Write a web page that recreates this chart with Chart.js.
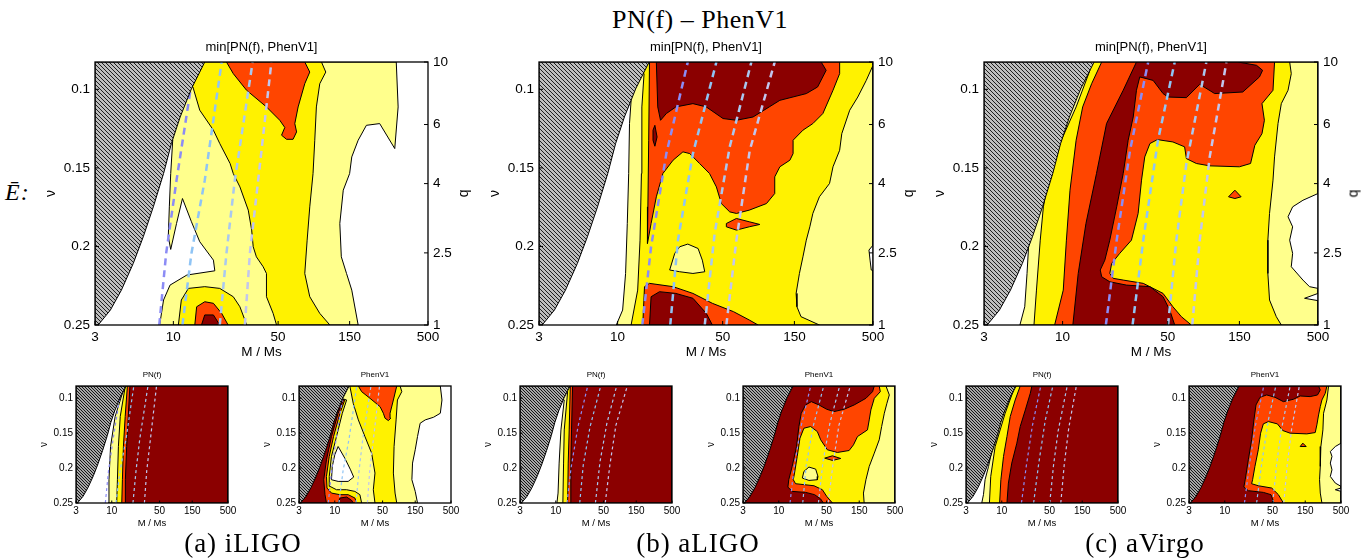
<!DOCTYPE html>
<html>
<head>
<meta charset="utf-8">
<script src="https://cdn.jsdelivr.net/npm/chart.js@4.4.1/dist/chart.umd.min.js"></script>
<style>
  body { margin: 0; width: 1370px; height: 560px; background: #fff; position: relative; overflow: hidden; font-family: "Liberation Sans", Arial, sans-serif; }
  canvas { position: absolute; }
  .lbl { position: absolute; white-space: nowrap; color: #000; text-align: center; }
  .serif { font-family: "Liberation Serif", "DejaVu Serif", serif; letter-spacing: 1px; }
</style>
</head>
<body>
<div class="lbl serif" style="left:500px;width:400px;top:5px;font-size:26px;line-height:30px;letter-spacing:0.5px;">PN(f) – PhenV1</div>
<div class="lbl serif" style="left:5px;top:178px;font-size:24px;line-height:28px;font-style:italic;">Ē:</div>
<script>
// axes: total mass M (log) and symmetric mass ratio nu, q on the right
const nuTop = 0.0826; // q = 10
const massTicks = [3, 10, 50, 150, 500];
const massTickLabels = ['3', '10', '50', '150', '500'];
const nuTicks = [0.1, 0.15, 0.2, 0.25];
const nuTickLabels = ['0.1', '0.15', '0.2', '0.25'];
const qTickNu = [0.0826, 0.1224, 0.16, 0.2041, 0.25];
const qTickLabels = ['10', '6', '4', '2.5', '1'];

// excluded corner (hatched), points [M, nu]
const hatchEdge = [[16.2,0.0826],[13.2,0.0996],[11.1,0.1176],[9.7,0.1345],[8.6,0.1536],[7.35,0.1748],[6.3,0.1938],[5.4,0.2108],[4.5,0.2278],[3.8,0.2405],[3.15,0.25]];

// dashed tracks per detector
const iligoTracks = [
  [[8.05,0.25],[8.95,0.2044],[10.5,0.1578],[13.0,0.1006]],
  [[11.5,0.25],[13.2,0.2044],[16.2,0.1578],[21.0,0.0826]],
  [[20.4,0.25],[22.6,0.2044],[25.7,0.1578],[33.8,0.0826]],
  [[30.0,0.25],[32.4,0.2044],[36.8,0.1578],[45.1,0.0826]]
];
const aligoTracks = [
  [[14.6,0.25],[16.7,0.2002],[21.1,0.1409],[29.3,0.0826]],
  [[22.4,0.25],[25.2,0.196],[31.7,0.1409],[45.4,0.0826]],
  [[38.0,0.25],[44.2,0.1917],[55.7,0.1366],[77.6,0.0826]],
  [[52.9,0.25],[61.7,0.196],[75.7,0.1388],[111,0.0826]]
];
const avirgoTracks = [
  [[19.4,0.25],[22.9,0.196],[28.1,0.1388],[37.1,0.0826]],
  [[29.2,0.25],[34.4,0.196],[43.1,0.1324],[55.7,0.0826]],
  [[50.3,0.25],[57.1,0.196],[66.6,0.1472],[90.4,0.0826]],
  [[72.9,0.25],[81.7,0.196],[95.2,0.143],[123,0.0826]]
];

// iLIGO, min[PN(f), PhenV1]
const aMinPale = [[3,0.0826],[307,0.0826],[316,0.1112],[300,0.1377],[238,0.1218],[194,0.1229],[171,0.1324],[155,0.143],[150,0.1536],[136,0.1642],[129,0.1854],[132,0.2066],[143,0.2172],[155,0.2278],[171,0.25],[8.1,0.25],[8.6,0.2341],[9.5,0.2246],[12.3,0.2182],[18.9,0.2155],[18.5,0.2087],[15.0,0.197],[13.2,0.1843],[11.5,0.1695],[10.5,0.1854],[9.6,0.2019],[9.25,0.1938],[9.4,0.1748],[9.6,0.1536],[9.9,0.1324]];
const aMinYellow = [[3,0.0826],[97.3,0.0826],[104,0.089],[94.8,0.0964],[90,0.1112],[87.8,0.1324],[85.5,0.1536],[81.3,0.1748],[78.1,0.196],[75.3,0.2172],[81.3,0.232],[94.8,0.2426],[110.7,0.25],[48.8,0.25],[46.3,0.2426],[41.8,0.232],[41.8,0.2172],[39.7,0.2129],[35.8,0.2066],[34.1,0.2002],[33.3,0.1896],[31.6,0.1769],[27.8,0.1621],[25.1,0.1536],[23.9,0.1472],[20.4,0.1345],[18.5,0.126],[15.0,0.1133],[13.5,0.0985]];
const aMinYellowLow = [[10.8,0.25],[11.3,0.2341],[12.6,0.2267],[16.2,0.2256],[20.4,0.2267],[25.1,0.232],[27.8,0.2384],[30.0,0.2468],[30.8,0.25]];
const aMinRed = [[22.6,0.0826],[25.1,0.09],[30.8,0.1006],[41.8,0.1112],[51.3,0.1197],[55.4,0.1243],[52.7,0.1292],[56.9,0.1318],[62.9,0.1318],[66.4,0.1271],[64.6,0.1218],[68,0.1112],[75.3,0.0964],[81.3,0.089],[75.3,0.0826]];
const aMinRedLow = [[13.9,0.25],[14.3,0.2384],[16.2,0.2352],[18.5,0.2362],[21,0.2426],[23.2,0.25]];
const aMinDark = [[15.4,0.25],[16.2,0.2436],[18.5,0.2436],[20.4,0.25]];

// aLIGO, min[PN(f), PhenV1]
const bMinPale = [[3,0.0826],[500,0.0826],[500,0.25],[9.8,0.25],[10.8,0.2405],[11.3,0.2172],[11.6,0.1854],[11.85,0.1536],[12.0,0.1218],[12.3,0.107]];
const bMinWhite = [[500,0.1992],[470,0.2023],[478,0.2087],[487,0.215],[500,0.2155]];
const bMinYellow = [[3,0.0826],[500,0.0826],[500,0.0847],[451,0.0943],[396,0.1049],[350,0.1133],[310,0.1282],[300,0.1388],[271,0.1493],[257,0.1599],[220,0.1684],[199,0.179],[190,0.1875],[180,0.196],[171,0.2066],[162,0.2172],[154,0.2299],[156,0.2384],[166,0.2447],[220,0.25],[12.3,0.25],[13.6,0.2278],[14.1,0.196],[14.4,0.1536],[14.5,0.1112],[15.0,0.09]];
const bMinPaleIsle = [[22.2,0.215],[24.0,0.2044],[25.9,0.2002],[29.3,0.1985],[34.3,0.2013],[36.6,0.2087],[38.0,0.2161],[31.7,0.2172],[25.9,0.2161]];
const bMinRed = [[16.3,0.0826],[16.1,0.1324],[15.9,0.1748],[15.8,0.1981],[16.7,0.1854],[18.1,0.1684],[20.0,0.1536],[23.4,0.1451],[27.2,0.1398],[30.2,0.1409],[35.1,0.1472],[40.9,0.1536],[45.4,0.1621],[49.0,0.1727],[55.7,0.178],[61.7,0.179],[75.1,0.1769],[97.8,0.1727],[111,0.1663],[111,0.1557],[120,0.1493],[140,0.1451],[147,0.1409],[147,0.1324],[171,0.126],[199,0.1218],[232,0.1154],[271,0.1006],[300,0.09],[300,0.0826]];
const bMinRedIsle = [[52.9,0.1854],[61.7,0.1822],[75.1,0.1843],[88.3,0.186],[75.1,0.1875],[61.7,0.1896],[52.9,0.1875]];
const bMinRedLow = [[14.7,0.25],[15.1,0.2256],[16.3,0.2235],[23.4,0.2256],[31.7,0.2299],[42.7,0.2362],[59.0,0.2415],[75.1,0.2468],[86.0,0.25]];
const bMinDark = [[18.1,0.0826],[18.5,0.1112],[19.3,0.1197],[21.1,0.1154],[24.4,0.1112],[31.7,0.1091],[38.9,0.1112],[50.3,0.1186],[61.7,0.1197],[79.6,0.1176],[102,0.1112],[120,0.107],[180,0.1027],[214,0.0985],[244,0.0879],[226,0.0826]];
const bMinDarkSliver = [[17.2,0.126],[17.7,0.1229],[18.3,0.1303],[17.7,0.1362],[17.2,0.1324]];
const bMinDarkLow = [[16.3,0.25],[16.7,0.232],[19.0,0.2288],[24.4,0.2299],[31.7,0.233],[38.9,0.2426],[42.7,0.25]];

// aVirgo, min[PN(f), PhenV1]
const cMinPale = [[3,0.0826],[500,0.0826],[500,0.25],[5.2,0.25],[5.6,0.2384],[5.8,0.2172],[5.97,0.196],[6.4,0.179],[7.8,0.1578]];
const cMinWhite = [[500,0.1663],[397,0.1706],[339,0.1748],[316,0.1811],[339,0.1875],[324,0.196],[339,0.2044],[332,0.2129],[397,0.2214],[439,0.2256],[500,0.2267]];
const cMinWhiteLow = [[500,0.2299],[407,0.233],[500,0.2345]];
const cMinYellow = [[3,0.0826],[324,0.0826],[332,0.09],[316,0.1006],[285,0.1091],[271,0.1218],[257,0.143],[251,0.1578],[238,0.179],[232,0.196],[232,0.2172],[238,0.2341],[264,0.2447],[285,0.25],[6.45,0.25],[6.7,0.2278],[7.1,0.196],[7.45,0.1748],[8.2,0.1536],[9.8,0.1324],[12.3,0.1112],[15.2,0.0879]];
const cMinRed = [[18.2,0.0826],[257,0.0826],[251,0.1006],[212,0.1091],[220,0.1197],[212,0.1282],[190,0.1356],[178,0.1472],[150,0.1493],[95.1,0.1487],[77.6,0.1472],[66.6,0.1441],[64.8,0.1366],[54.2,0.1335],[42.7,0.132],[38.1,0.1345],[35.2,0.143],[33.5,0.1578],[31.8,0.179],[28.7,0.196],[24.0,0.2044],[21.2,0.2108],[20.6,0.2172],[21.7,0.2203],[25.3,0.2214],[34.4,0.2235],[46.6,0.2299],[54.2,0.2384],[61.7,0.2447],[71.8,0.25],[8.85,0.25],[10.1,0.2278],[10.6,0.196],[11.2,0.1642],[12.3,0.1324],[13.6,0.1112],[15.6,0.0964]];
const cMinRedIsle = [[127,0.1684],[140,0.1642],[154,0.1684],[140,0.1695]];
const cMinDark = [[31.0,0.0826],[146.6,0.0826],[195,0.0847],[214,0.0879],[204,0.0921],[158,0.1017],[102.7,0.1027],[81.7,0.0968],[66.6,0.1053],[50.2,0.1049],[46.6,0.1027],[40.0,0.0943],[32.6,0.0921],[31.0,0.1006],[29.5,0.1176],[27.3,0.1324],[25.3,0.1536],[22.9,0.1748],[20.6,0.196],[19.1,0.2087],[17.8,0.215],[18.2,0.2193],[20.6,0.2225],[26.6,0.2246],[38.1,0.2256],[46.6,0.232],[51.6,0.2405],[55.7,0.25],[11.7,0.25],[12.7,0.2172],[14.3,0.1854],[16.8,0.1536],[19.6,0.1218],[25.3,0.1006]];

// iLIGO, PN(f) and PhenV1
const aPnPale = [[3,0.0826],[500,0.0826],[500,0.25],[8.9,0.25],[9.1,0.2167],[9.6,0.1691],[11.2,0.1263],[14.8,0.0883]];
const aPnYellow = [[3,0.0826],[500,0.0826],[500,0.25],[11.8,0.25],[12.1,0.2167],[12.5,0.1691],[13.3,0.1263],[15.7,0.0836]];
const aPnRed = [[16.9,0.0826],[500,0.0826],[500,0.25],[14.0,0.25],[14.3,0.2167],[14.8,0.1691],[15.7,0.1263]];
const aPnDark = [[18.4,0.0826],[500,0.0826],[500,0.25],[15.7,0.25],[15.8,0.2167],[16.5,0.1691],[17.4,0.1263]];
const aPhPale = [[3,0.0826],[349,0.0826],[369,0.1026],[349,0.1216],[278,0.1273],[210,0.1311],[177,0.1359],[162,0.1549],[150,0.1739],[137,0.1929],[134,0.2167],[150,0.2334],[162,0.25],[3,0.25]];
const aPhWhite = [[11.2,0.1692],[14.0,0.1858],[17.0,0.2025],[18.9,0.2129],[15.7,0.2191],[11.2,0.2191],[8.95,0.2167],[9.2,0.1977],[10.0,0.181]];
const aPhYellow = [[16.6,0.0826],[90.2,0.0826],[95.4,0.0907],[82.4,0.1026],[78.8,0.1311],[73.6,0.1692],[71.9,0.2072],[76.1,0.2358],[80.5,0.25],[38.7,0.25],[36.6,0.231],[38.7,0.2072],[34.6,0.1787],[27.6,0.1549],[22.1,0.1311],[18.6,0.1073]];
const aPhYellowLeft = [[3,0.25],[24.7,0.25],[23.3,0.2381],[19.7,0.2334],[14.9,0.231],[10.6,0.231],[8.5,0.2262],[8.3,0.212],[8.95,0.1834],[10.6,0.1549],[12.9,0.1216],[14.9,0.1026],[3,0.0826]];
const aPhRed = [[3,0.25],[20.8,0.25],[19.7,0.2429],[15.7,0.2381],[11.9,0.2381],[8.95,0.2358],[7.7,0.2286],[7.56,0.212],[8.3,0.1834],[9.6,0.1549],[11.9,0.1216],[14.0,0.1026],[3,0.0826]];
const aPhRedTop = [[22.1,0.0826],[24.7,0.0907],[32.7,0.1002],[45.9,0.1121],[51.3,0.1216],[54.3,0.1287],[60.8,0.1321],[65.8,0.1287],[64.3,0.1216],[71.9,0.1026],[80.5,0.0826]];
const aPhDark = [[3,0.25],[7.56,0.25],[7.2,0.2381],[6.9,0.2167],[7.56,0.1882],[8.95,0.1549],[11.2,0.1216],[13.3,0.1026],[3,0.0826]];
const aPhDarkLow = [[11.2,0.25],[11.9,0.2429],[14.9,0.2414],[17.6,0.2462],[18.6,0.25]];

// aLIGO, PN(f) and PhenV1
const bPnPale = [[3,0.0826],[500,0.0826],[500,0.25],[10.4,0.25],[10.8,0.2358],[11.2,0.1929],[11.9,0.1454],[13.3,0.1026]];
const bPnYellow = [[3,0.0826],[500,0.0826],[500,0.25],[12.7,0.25],[13.0,0.1929],[13.3,0.1454],[14.9,0.0907]];
const bPnRed = [[16.3,0.0826],[500,0.0826],[500,0.25],[14.9,0.25],[15.2,0.1929],[15.7,0.1454]];
const bPnDark = [[17.6,0.0826],[500,0.0826],[500,0.25],[16.3,0.25],[16.6,0.1929],[17.0,0.1454]];
const bPhPale = [[3,0.0826],[500,0.0826],[500,0.25],[3,0.25]];
const bPhYellow = [[3,0.0826],[369,0.0826],[413,0.0954],[381,0.1073],[349,0.1216],[319,0.1406],[294,0.1596],[249,0.1787],[210,0.1977],[188,0.2167],[173,0.2358],[177,0.25],[3,0.25]];
const bPhRed = [[3,0.0826],[294,0.0826],[305,0.0907],[249,0.1002],[222,0.1168],[210,0.1311],[198,0.1454],[141.5,0.1549],[123.6,0.1668],[106.8,0.1749],[71.9,0.1777],[51.3,0.1739],[41.0,0.1596],[36.6,0.1478],[29.2,0.1406],[23.3,0.143],[20.4,0.1573],[18.6,0.1834],[17.0,0.2072],[16.3,0.2167],[17.6,0.2224],[32.7,0.2253],[43.4,0.231],[50.2,0.2405],[60.8,0.25],[3,0.25]];
const bPhRedIsle = [[46.9,0.1858],[60.8,0.1825],[80.5,0.1863],[60.8,0.1891]];
const bPhDark = [[3,0.0826],[249,0.0826],[235,0.0907],[188,0.1002],[126.5,0.1097],[90.2,0.1159],[64.3,0.1192],[50.2,0.1159],[38.7,0.1097],[29.9,0.105],[24.7,0.1097],[21.3,0.1216],[19.7,0.1406],[18.2,0.1692],[15.7,0.1977],[14.0,0.2167],[13.6,0.2272],[15.7,0.2334],[24.7,0.2348],[33.4,0.2381],[41.0,0.2443],[44.8,0.25],[3,0.25]];
const bPhPaleIsle = [[22.1,0.2143],[23.3,0.2048],[27.6,0.1986],[34.6,0.2015],[37.4,0.212],[36.6,0.2167],[27.6,0.2177]];

// aVirgo, PN(f) and PhenV1
const cPnPale = [[3,0.0826],[500,0.0826],[500,0.25],[5.1,0.25],[5.4,0.2381],[5.7,0.2167],[6.4,0.1977],[7.6,0.1644]];
const cPnYellow = [[3,0.0826],[500,0.0826],[500,0.25],[6.6,0.25],[6.9,0.212],[8.0,0.1692],[11.2,0.1216],[14.9,0.0883]];
const cPnRed = [[18.6,0.0826],[500,0.0826],[500,0.25],[9.3,0.25],[9.7,0.2167],[10.6,0.1834],[11.9,0.1549],[13.3,0.1263],[15.7,0.1026]];
const cPnDark = [[27.6,0.0826],[500,0.0826],[500,0.25],[11.9,0.25],[12.5,0.2215],[14.0,0.1929],[16.6,0.1644],[18.6,0.1406],[22.1,0.1168],[26.1,0.0931]];
const cPhPale = [[3,0.0826],[500,0.0826],[500,0.25],[3,0.25]];
const cPhWhite = [[500,0.1644],[413,0.1692],[349,0.1763],[369,0.1834],[349,0.1929],[369,0.2025],[349,0.212],[413,0.2215],[500,0.2262]];
const cPhWhiteLow = [[500,0.2286],[413,0.231],[500,0.2334]];
const cPhYellow = [[3,0.0826],[329,0.0826],[311,0.1026],[278,0.1216],[272,0.1454],[254,0.1692],[249,0.1977],[243,0.2167],[249,0.2358],[263,0.25],[3,0.25]];
const cPhRed = [[3,0.0826],[311,0.0826],[294,0.0931],[263,0.1026],[249,0.1121],[235,0.124],[222,0.1382],[210,0.1492],[158,0.1511],[90.2,0.1501],[70.4,0.1463],[58.8,0.1368],[43.4,0.1335],[36.6,0.1368],[33.4,0.1501],[30.9,0.1739],[27.6,0.1977],[25.5,0.2167],[24.7,0.2224],[30.9,0.2253],[48.5,0.2286],[60.8,0.2381],[71.9,0.25],[3,0.25]];
const cPhRedIsle = [[126.5,0.1692],[138.4,0.1644],[154.9,0.1692]];
const cPhDark = [[3,0.0826],[235,0.0826],[249,0.0883],[227,0.0954],[177,0.0978],[126.5,0.0969],[100.9,0.1016],[71.9,0.105],[54.3,0.0988],[41.0,0.0954],[32.7,0.0988],[28.6,0.1097],[26.7,0.1311],[24.7,0.1596],[22.1,0.1882],[19.9,0.2167],[19.0,0.2272],[22.1,0.2324],[36.6,0.2348],[47.4,0.2381],[52.5,0.25],[3,0.25]];

const WHITE = '#ffffff', PALE = '#ffff8c', YELLOW = '#fff200', ORANGE = '#ff4500', DARK = '#8b0000';
const trackColors = ['#8c8cf5', '#8fc4f5', '#a9c8f0', '#c2c6ee'];
const FONT = "'Liberation Sans', Arial, sans-serif";

function makeHatch(step, bg, fg) {
  const c = document.createElement('canvas');
  c.width = step; c.height = step;
  const g = c.getContext('2d');
  g.fillStyle = bg;
  g.fillRect(0, 0, step, step);
  g.strokeStyle = fg;
  g.lineWidth = 1;
  g.beginPath();
  g.moveTo(-1, -1); g.lineTo(step + 1, step + 1);
  g.moveTo(-1, step - 1); g.lineTo(1, step + 1);
  g.moveTo(step - 1, -1); g.lineTo(step + 1, 1);
  g.stroke();
  return g.createPattern(c, 'repeat');
}
const hatchBig = makeHatch(4, '#bdbdbd', '#1e1e1e');
const hatchSmall = makeHatch(3, '#a6a6a6', '#161616');

function shape(pts, color) {
  return {
    data: pts.concat([pts[0]]).map(p => ({ x: p[0], y: p[1] })),
    fill: 'shape', backgroundColor: color, borderColor: '#000', borderWidth: 1,
    pointRadius: 0, tension: 0
  };
}
function track(pts, color, big) {
  return {
    data: pts.map(p => ({ x: p[0], y: p[1] })),
    fill: false, borderColor: color, borderWidth: big ? 2.5 : 1.2,
    borderDash: big ? [7, 5] : [3, 3], pointRadius: 0, tension: 0
  };
}

// box and inward tick marks, placed with the chart's own scales
const framePlugin = {
  id: 'frame',
  afterDatasetsDraw(chart, args, opts) {
    const { ctx, chartArea: a, scales } = chart;
    ctx.save();
    ctx.strokeStyle = '#000';
    ctx.lineWidth = 1;
    ctx.beginPath();
    massTicks.forEach(v => { const x = scales.x.getPixelForValue(v); ctx.moveTo(x, a.bottom); ctx.lineTo(x, a.bottom - opts.tick); });
    nuTicks.forEach(v => { const y = scales.y.getPixelForValue(v); ctx.moveTo(a.left, y); ctx.lineTo(a.left + opts.tick, y); });
    if (scales.y2) qTickNu.forEach(v => { const y = scales.y2.getPixelForValue(v); ctx.moveTo(a.right, y); ctx.lineTo(a.right - opts.tick, y); });
    ctx.stroke();
    ctx.lineWidth = 1.3;
    ctx.strokeRect(a.left, a.top, a.right - a.left, a.bottom - a.top);
    ctx.restore();
  }
};

function label(text, cx, cy, size, cls, rotate) {
  const d = document.createElement('div');
  d.className = 'lbl' + (cls ? ' ' + cls : '');
  d.textContent = text;
  d.style.left = (cx - 150) + 'px';
  d.style.width = '300px';
  d.style.top = (cy - size * 0.6) + 'px';
  d.style.fontSize = size + 'px';
  d.style.lineHeight = (size * 1.2) + 'px';
  if (rotate) d.style.transform = 'rotate(' + rotate + 'deg)';
  document.body.appendChild(d);
}

function panel(rect, big, title, layers, tracks) {
  const padL = big ? 70 : 50, padR = big ? 50 : 16, padT = 16, padB = big ? 40 : 30;
  const w = rect[1] - rect[0] + padL + padR;
  const h = rect[3] - rect[2] + padT + padB;
  const canvas = document.createElement('canvas');
  canvas.width = w; canvas.height = h;
  canvas.style.left = (rect[0] - padL) + 'px';
  canvas.style.top = (rect[2] - padT) + 'px';
  canvas.style.width = w + 'px';
  canvas.style.height = h + 'px';
  document.body.appendChild(canvas);

  const tickFont = { family: FONT, size: big ? 13.5 : 10 };
  const datasets = layers.map(l => shape(l[0], l[1]))
    .concat(tracks.map((t, i) => track(t, trackColors[i], big)))
    .concat([shape(hatchEdge.concat([[3, 0.25], [3, nuTop]]), big ? hatchBig : hatchSmall)]);
  datasets.forEach((d, i) => { d.order = datasets.length - i; });

  const scales = {
    x: {
      type: 'logarithmic', min: 3, max: 500,
      afterBuildTicks: s => { s.ticks = massTicks.map(v => ({ value: v })); },
      afterFit: s => { s.height = padB; },
      grid: { display: false, drawTicks: false }, border: { display: false },
      ticks: { autoSkip: false, maxRotation: 0, padding: big ? 4 : 2, color: '#000', font: tickFont, callback: (v, i) => massTickLabels[i] },
      title: { display: true, text: 'M / Ms', color: '#000', font: { family: FONT, size: big ? 13.5 : 9.5 }, padding: { top: 0, bottom: big ? 5 : 4 } }
    },
    y: {
      type: 'linear', reverse: true, min: nuTop, max: 0.25,
      afterBuildTicks: s => { s.ticks = nuTicks.map(v => ({ value: v })); },
      afterFit: s => { s.width = padL; },
      grid: { display: false, drawTicks: false }, border: { display: false },
      ticks: { autoSkip: false, padding: big ? 5 : 3, color: '#000', font: tickFont, callback: (v, i) => nuTickLabels[i] },
      title: { display: true, text: 'ν', color: '#000', font: { family: FONT, size: big ? 14 : 10 }, padding: { top: big ? 17.6 : 12, bottom: 0 } }
    }
  };
  if (big) {
    scales.y2 = {
      type: 'linear', position: 'right', reverse: true, min: nuTop, max: 0.25,
      afterBuildTicks: s => { s.ticks = qTickNu.map(v => ({ value: v })); },
      afterFit: s => { s.width = padR; },
      grid: { display: false, drawTicks: false }, border: { display: false },
      ticks: { autoSkip: false, padding: 5, color: '#000', font: tickFont, callback: (v, i) => qTickLabels[i] },
      title: { display: false }
    };
  }

  new Chart(canvas.getContext('2d'), {
    type: 'line',
    data: { datasets },
    options: {
      responsive: false, animation: false, devicePixelRatio: 1, events: [],
      layout: { padding: { left: 0, right: big ? 0 : padR, top: padT, bottom: 0 } },
      plugins: { legend: { display: false }, tooltip: { enabled: false }, frame: { tick: big ? 4 : 2.5 } },
      scales
    },
    plugins: [framePlugin]
  });

  if (big) {
    label(title, (rect[0] + rect[1]) / 2, 47, 13);
    label('q', rect[1] + 35, 193, 14, null, -90);
  } else {
    label(title, (rect[0] + rect[1]) / 2, 375, 8);
  }
}

panel([95, 428, 62, 325], true, 'min[PN(f), PhenV1]',
  [[aMinPale, PALE], [aMinYellow, YELLOW], [aMinYellowLow, YELLOW], [aMinRed, ORANGE], [aMinRedLow, ORANGE], [aMinDark, DARK]], iligoTracks);
panel([539, 873, 62, 325], true, 'min[PN(f), PhenV1]',
  [[bMinPale, PALE], [bMinWhite, WHITE], [bMinYellow, YELLOW], [bMinPaleIsle, PALE], [bMinRed, ORANGE], [bMinRedIsle, ORANGE], [bMinRedLow, ORANGE], [bMinDark, DARK], [bMinDarkSliver, DARK], [bMinDarkLow, DARK]], aligoTracks);
panel([984, 1318, 62, 325], true, 'min[PN(f), PhenV1]',
  [[cMinPale, PALE], [cMinWhite, WHITE], [cMinWhiteLow, WHITE], [cMinYellow, YELLOW], [cMinRed, ORANGE], [cMinRedIsle, ORANGE], [cMinDark, DARK]], avirgoTracks);

panel([76, 228, 386, 503], false, 'PN(f)',
  [[aPnPale, PALE], [aPnYellow, YELLOW], [aPnRed, ORANGE], [aPnDark, DARK]], iligoTracks);
panel([299, 451, 386, 503], false, 'PhenV1',
  [[aPhPale, PALE], [aPhWhite, WHITE], [aPhYellow, YELLOW], [aPhYellowLeft, YELLOW], [aPhRed, ORANGE], [aPhRedTop, ORANGE], [aPhDark, DARK], [aPhDarkLow, DARK]], iligoTracks);
panel([520, 672, 386, 503], false, 'PN(f)',
  [[bPnPale, PALE], [bPnYellow, YELLOW], [bPnRed, ORANGE], [bPnDark, DARK]], aligoTracks);
panel([743, 895, 386, 503], false, 'PhenV1',
  [[bPhPale, PALE], [bPhYellow, YELLOW], [bPhRed, ORANGE], [bPhRedIsle, ORANGE], [bPhDark, DARK], [bPhPaleIsle, PALE]], aligoTracks);
panel([966, 1118, 386, 503], false, 'PN(f)',
  [[cPnPale, PALE], [cPnYellow, YELLOW], [cPnRed, ORANGE], [cPnDark, DARK]], avirgoTracks);
panel([1189, 1341, 386, 503], false, 'PhenV1',
  [[cPhPale, PALE], [cPhWhite, WHITE], [cPhWhiteLow, WHITE], [cPhYellow, YELLOW], [cPhRed, ORANGE], [cPhRedIsle, ORANGE], [cPhDark, DARK]], avirgoTracks);

label('(a) iLIGO', 243, 543, 27, 'serif');
label('(b) aLIGO', 698, 543, 27, 'serif');
label('(c) aVirgo', 1145, 543, 27, 'serif');
</script>
</body>
</html>
